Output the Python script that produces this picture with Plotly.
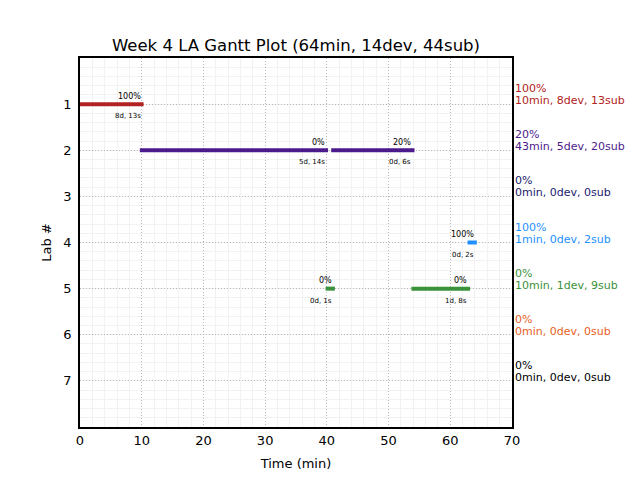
import plotly.graph_objects as go

# Segments (bars)
seg_labs = [1, 2, 2, 4, 5, 5]
seg_starts = [0.0, 9.7, 40.7, 62.8, 39.8, 53.7]
seg_ends = [10.3, 40.2, 54.2, 64.3, 41.3, 63.2]
seg_pct = ['100%', '0%', '20%', '100%', '0%', '0%']
seg_dur = ['8d, 13s', '5d, 14s', '0d, 6s', '0d, 2s', '0d, 1s', '1d, 8s']

# Per lab summary
labs = [1, 2, 3, 4, 5, 6, 7]
lab_colors = ['#B22222', '#4B1A8C', '#1A1A6E', '#1E90FF', '#3A923A', '#E8601C', '#000000']
lab_pct = ['100%', '20%', '0%', '100%', '0%', '0%', '0%']
lab_summary = ['10min, 8dev, 13sub', '43min, 5dev, 20sub', '0min, 0dev, 0sub',
               '1min, 0dev, 2sub', '10min, 1dev, 9sub', '0min, 0dev, 0sub', '0min, 0dev, 0sub']

FONT = 'DejaVu Sans'
fig = go.Figure()
annotations = []
for lab, s, e, p, d in zip(seg_labs, seg_starts, seg_ends, seg_pct, seg_dur):
    col = lab_colors[labs.index(lab)]
    fig.add_trace(go.Scatter(x=[s, e], y=[lab, lab], mode='lines',
                             line=dict(color=col, width=4), showlegend=False,
                             hoverinfo='skip'))
    annotations.append(dict(x=e, y=lab, xref='x', yref='y', text=p, showarrow=False,
                            xanchor='right', yanchor='middle', yshift=8, xshift=-1,
                            font=dict(family=FONT, size=8, color='black')))
    annotations.append(dict(x=e, y=lab, xref='x', yref='y', text=d, showarrow=False,
                            xanchor='right', yanchor='middle', yshift=-12, xshift=-1,
                            font=dict(family=FONT, size=7, color='black')))

for lab, col, p, sm in zip(labs, lab_colors, lab_pct, lab_summary):
    annotations.append(dict(x=1, y=lab, xref='paper', yref='y', text=p, showarrow=False,
                            xanchor='left', yanchor='middle', xshift=2, yshift=15.5,
                            borderpad=0,
                            font=dict(family=FONT, size=11, color=col)))
    annotations.append(dict(x=1, y=lab, xref='paper', yref='y', text=sm, showarrow=False,
                            xanchor='left', yanchor='middle', xshift=2, yshift=3.5,
                            borderpad=0,
                            font=dict(family=FONT, size=11, color=col)))

# page body has an 8px margin, so shift the figure's margins accordingly
fig.update_layout(
    width=640, height=480,
    margin=dict(l=72, r=136, t=50, b=61, autoexpand=False),
    paper_bgcolor='white', plot_bgcolor='white',
    font=dict(family=FONT, size=13, color='black'),
    title=dict(text='Week 4 LA Gantt Plot (64min, 14dev, 44sub)', x=(72 + 504) / 2 / 640,
               xanchor='center', y=1 - 37 / 480, yanchor='middle', yref='container',
               font=dict(family=FONT, size=16.5, color='black')),
    annotations=annotations,
)
fig.update_xaxes(range=[0, 70], dtick=10, showgrid=True, gridcolor='#b8b8b8', griddash='1px,2px',
                 gridwidth=1, zeroline=False, showline=True, linecolor='black', linewidth=1.5,
                 mirror=True, ticks='', automargin=False, ticklabelstandoff=1,
                 title=dict(text='Time (min)', standoff=12, font=dict(size=13)),
                 tickfont=dict(size=13),
                 minor=dict(dtick=2, showgrid=True, gridcolor='#f2f2f2', gridwidth=1,
                            griddash='solid'))
fig.update_yaxes(range=[8, 0], tickvals=labs, showgrid=True, gridcolor='#b8b8b8', griddash='1px,2px',
                 gridwidth=1, zeroline=False, showline=True, linecolor='black', linewidth=1.5,
                 mirror=True, ticks='', automargin=False, ticklabelstandoff=4,
                 title=dict(text='Lab #', standoff=9, font=dict(size=13)),
                 tickfont=dict(size=13),
                 minor=dict(dtick=0.2, showgrid=True, gridcolor='#f2f2f2', gridwidth=1,
                            griddash='solid'))

fig.write_html('out.html')
